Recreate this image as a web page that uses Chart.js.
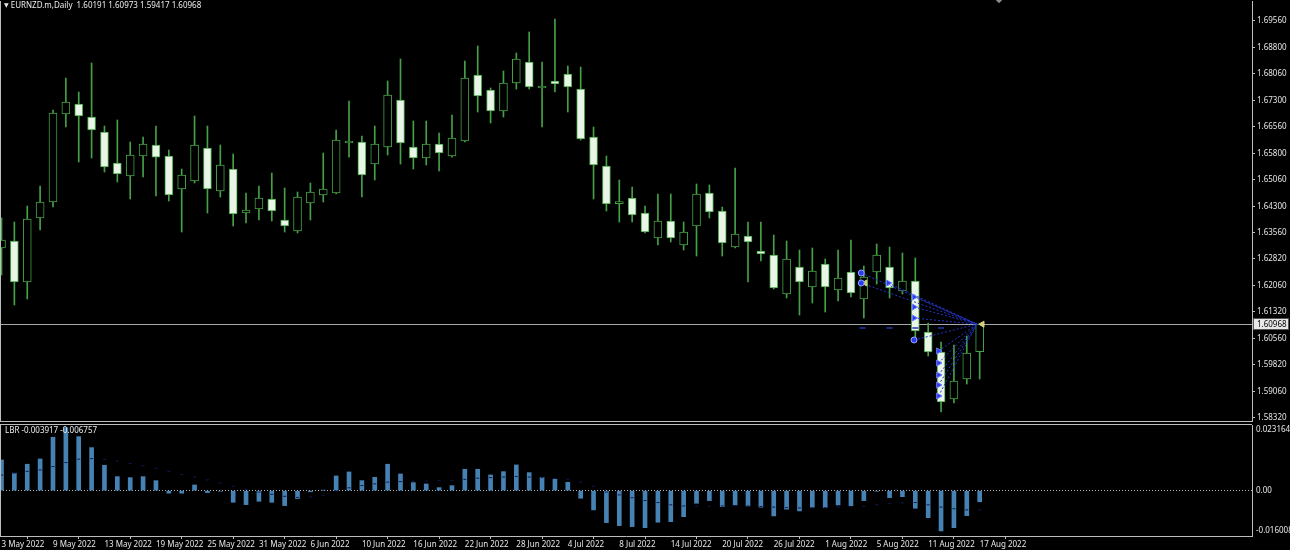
<!DOCTYPE html>
<html>
<head>
<meta charset="utf-8">
<title>EURNZD.m Daily</title>
<script src="https://cdn.jsdelivr.net/npm/chart.js@4.4.1/dist/chart.umd.min.js"></script>
<style>
  html, body { margin: 0; padding: 0; background: #000; }
  #wrap { position: relative; width: 1290px; height: 550px; overflow: hidden; background: #000; font-family: "Noto Sans", "DejaVu Sans", sans-serif; }
  #mainBox { position: absolute; left: 0; top: 0; width: 1290px; height: 422px; }
  #subBox { position: absolute; left: 0; top: 420px; width: 1290px; height: 130px; }
  .lbl { position: absolute; color: #ececec; font-size: 8px; line-height: 10px; white-space: pre; }
  .tri { font-size: 6px; vertical-align: 1px; }
  .shift { position: absolute; left: 996px; top: -4px; width: 6px; height: 6px; background: #8c8c8c; transform: rotate(45deg); }
</style>
</head>
<body>
<div id="wrap">
  <div id="mainBox"><canvas id="mainChart" width="1290" height="422"></canvas></div>
  <div id="subBox"><canvas id="subChart" width="1290" height="130"></canvas></div>
  <div class="lbl" style="left:4px;top:0px"><span class="tri">▼</span> EURNZD.m,Daily  1.60191 1.60973 1.59417 1.60968</div>
  <div class="lbl" style="left:5px;top:425px">LBR -0.003917 -0.006757</div>
  <div class="shift"></div>
</div>
<script>
// trading days shown on the chart
const dates = [
  '3 May 2022', '4 May 2022', '5 May 2022', '6 May 2022', '9 May 2022', '10 May 2022', '11 May 2022',
  '12 May 2022', '13 May 2022', '16 May 2022', '17 May 2022', '18 May 2022', '19 May 2022', '20 May 2022',
  '23 May 2022', '24 May 2022', '25 May 2022', '26 May 2022', '27 May 2022', '30 May 2022', '31 May 2022',
  '1 Jun 2022', '2 Jun 2022', '3 Jun 2022', '6 Jun 2022', '7 Jun 2022', '8 Jun 2022', '9 Jun 2022',
  '10 Jun 2022', '13 Jun 2022', '14 Jun 2022', '15 Jun 2022', '16 Jun 2022', '17 Jun 2022', '20 Jun 2022',
  '21 Jun 2022', '22 Jun 2022', '23 Jun 2022', '24 Jun 2022', '27 Jun 2022', '28 Jun 2022', '29 Jun 2022',
  '30 Jun 2022', '1 Jul 2022', '4 Jul 2022', '5 Jul 2022', '6 Jul 2022', '7 Jul 2022', '8 Jul 2022',
  '11 Jul 2022', '12 Jul 2022', '13 Jul 2022', '14 Jul 2022', '15 Jul 2022', '18 Jul 2022', '19 Jul 2022',
  '20 Jul 2022', '21 Jul 2022', '22 Jul 2022', '25 Jul 2022', '26 Jul 2022', '27 Jul 2022', '28 Jul 2022',
  '29 Jul 2022', '1 Aug 2022', '2 Aug 2022', '3 Aug 2022', '4 Aug 2022', '5 Aug 2022', '8 Aug 2022',
  '9 Aug 2022', '10 Aug 2022', '11 Aug 2022', '12 Aug 2022', '15 Aug 2022', '16 Aug 2022', '17 Aug 2022'
];

const open = [
  1.63125, 1.63323, 1.62162, 1.63974, 1.64427, 1.66918, 1.67202, 1.66833, 1.66409, 1.65531,
  1.65163, 1.65729, 1.66041, 1.65729, 1.64795, 1.65021, 1.65956, 1.64738, 1.65361, 1.64115,
  1.64229, 1.64512, 1.63917, 1.63606, 1.64399, 1.64625, 1.64682, 1.66097, 1.66126, 1.65502,
  1.65984, 1.67315, 1.65984, 1.65672, 1.66069, 1.65729, 1.66154, 1.68023, 1.67598, 1.67003,
  1.67796, 1.68391, 1.67655, 1.67853, 1.68051, 1.67626, 1.66267, 1.65446, 1.64380, 1.64540,
  1.64115, 1.63408, 1.63889, 1.63210, 1.63747, 1.64682, 1.64172, 1.63153, 1.63464, 1.63040,
  1.62926, 1.61822, 1.62587, 1.62020, 1.62672, 1.61935, 1.62445, 1.61681, 1.62445, 1.62587,
  1.61907, 1.62190, 1.60746, 1.60180, 1.58850, 1.59416, 1.60191
];
const high = [
  1.63974, 1.63861, 1.64313, 1.64880, 1.67032, 1.67938, 1.67541, 1.68362, 1.66579, 1.66749,
  1.66126, 1.66267, 1.66579, 1.65898, 1.65361, 1.66862, 1.66579, 1.66041, 1.65785, 1.64682,
  1.64880, 1.65248, 1.64823, 1.64710, 1.64965, 1.65814, 1.66465, 1.67286, 1.66296, 1.66579,
  1.67853, 1.68476, 1.66720, 1.66720, 1.66380, 1.66890, 1.68419, 1.68844, 1.67655, 1.68136,
  1.68645, 1.69240, 1.68391, 1.69608, 1.68277, 1.68249, 1.66550, 1.65729, 1.65050, 1.64852,
  1.64313, 1.64653, 1.64653, 1.63861, 1.64937, 1.64908, 1.64285, 1.65390, 1.63861, 1.63861,
  1.63493, 1.63323, 1.63068, 1.63125, 1.62813, 1.63068, 1.63351, 1.62615, 1.63238, 1.63153,
  1.62983, 1.62841, 1.61001, 1.60463, 1.60378, 1.60633, 1.60973
];
const low = [
  1.62360, 1.61511, 1.61681, 1.63634, 1.64285, 1.66550, 1.65559, 1.65672, 1.65276, 1.64993,
  1.64512, 1.65135, 1.64597, 1.64455, 1.63578, 1.64965, 1.64115, 1.64568, 1.63747, 1.63832,
  1.63917, 1.63889, 1.63578, 1.63549, 1.63917, 1.64427, 1.64653, 1.65700, 1.64568, 1.65050,
  1.65757, 1.65502, 1.65361, 1.65474, 1.65304, 1.65700, 1.66126, 1.66975, 1.66663, 1.66833,
  1.67626, 1.67626, 1.66550, 1.67541, 1.66975, 1.66182, 1.64512, 1.64172, 1.63861, 1.63861,
  1.63550, 1.63210, 1.63294, 1.63068, 1.62898, 1.63974, 1.62898, 1.63125, 1.62162, 1.62757,
  1.61964, 1.61709, 1.61228, 1.61567, 1.61313, 1.61624, 1.61737, 1.61143, 1.62105, 1.61709,
  1.61822, 1.60520, 1.60067, 1.58482, 1.58737, 1.59274, 1.59417
];
const close = [
  1.63351, 1.62162, 1.63946, 1.64427, 1.66947, 1.67258, 1.66862, 1.66465, 1.65418, 1.65220,
  1.65757, 1.66069, 1.65700, 1.64625, 1.65191, 1.66041, 1.64795, 1.65474, 1.64087, 1.64200,
  1.64540, 1.64172, 1.63747, 1.64568, 1.64710, 1.64795, 1.66182, 1.66154, 1.65191, 1.66069,
  1.67456, 1.66097, 1.65672, 1.66069, 1.65814, 1.66239, 1.67938, 1.67428, 1.67003, 1.67796,
  1.68476, 1.67683, 1.67711, 1.67768, 1.67683, 1.66211, 1.65474, 1.64370, 1.64399, 1.64059,
  1.63578, 1.63889, 1.63408, 1.63578, 1.64653, 1.64144, 1.63266, 1.63521, 1.63294, 1.62955,
  1.61992, 1.62813, 1.62162, 1.62473, 1.62020, 1.62275, 1.61850, 1.62304, 1.62926, 1.61992,
  1.62190, 1.60775, 1.60180, 1.58765, 1.59359, 1.60152, 1.60968
];

// LBR oscillator (histogram) and its signal
const lbr = [
  0.01083, 0.00614, 0.00932, 0.01119, 0.01884, 0.02220, 0.01906, 0.01518, 0.00896, 0.00494,
  0.00459, 0.00494, 0.00353, -0.00090, -0.00090, 0.00200, -0.00070, -0.00020, -0.00410, -0.00494,
  -0.00375, -0.00410, -0.00529, -0.00282, -0.00040, 0.00020, 0.00518, 0.00660, 0.00353, 0.00471,
  0.00932, 0.00588, 0.00282, 0.00235, 0.00106, 0.00176, 0.00755, 0.00755, 0.00554, 0.00671,
  0.00907, 0.00635, 0.00471, 0.00402, 0.00296, -0.00268, -0.00681, -0.01129, -0.01235, -0.01270,
  -0.01306, -0.01115, -0.01094, -0.00918, -0.00445, -0.00353, -0.00565, -0.00505, -0.00540, -0.00586,
  -0.00893, -0.00656, -0.00716, -0.00586, -0.00600, -0.00505, -0.00529, -0.00353, -0.00020, -0.00247,
  -0.00212, -0.00621, -0.00953, -0.01422, -0.01306, -0.00882, -0.003917
];
const lbrSignal = [
  0.0055, 0.0062, 0.0068, 0.0073, 0.0085, 0.0099, 0.0111, 0.0113, 0.0110, 0.0104,
  0.0096, 0.0088, 0.0079, 0.0068, 0.0057, 0.0048, 0.0038, 0.0027, 0.0015, 0.0005,
  -0.0005, -0.0013, -0.0020, -0.0024, -0.0022, -0.0016, -0.0001, 0.0010, 0.0018, 0.0024,
  0.0030, 0.0032, 0.0033, 0.0034, 0.0035, 0.0036, 0.0040, 0.0044, 0.0046, 0.0048,
  0.0050, 0.0048, 0.0046, 0.0043, 0.0040, 0.0030, 0.0015, -0.0005, -0.0015, -0.0025,
  -0.0035, -0.0042, -0.0050, -0.0054, -0.0055, -0.0055, -0.0054, -0.0053, -0.0054, -0.0056,
  -0.0058, -0.0060, -0.0061, -0.0061, -0.0060, -0.0058, -0.0057, -0.0055, -0.0050, -0.0046,
  -0.0043, -0.0042, -0.0050, -0.0058, -0.0064, -0.0068, -0.006757
];

// axis tick labels
const priceTicks = [1.69560, 1.68800, 1.68060, 1.67300, 1.66560, 1.65800, 1.65060, 1.64300,
  1.63560, 1.62820, 1.62060, 1.61320, 1.60560, 1.59820, 1.59060, 1.58320];
const subTickLabels = ['0.023164', '0.00', '-0.016008'];
const dateTickEvery = 4;

// trade arrows (bar position, price) and where they were closed
const entryX = [66.8, 66.8, 68.9, 70.9, 70.9, 70.9, 70.9, 72.8, 72.8, 72.8, 72.8, 72.8];
const entryPrice = [1.62417, 1.62134, 1.62134, 1.61737, 1.61454, 1.61143, 1.60520, 1.60208, 1.59869, 1.59529, 1.59246, 1.58935];
const entryKind = ['circle', 'circle', 'arrow', 'arrow', 'arrow', 'arrow', 'circle', 'arrow', 'arrow', 'arrow', 'arrow', 'arrow'];
const exitX = [67.1, 76.2];
const exitPrice = [1.62134, 1.60968];
const stopX = [66.9, 69.0, 71.0, 73.0];
const stopPrice = [1.60860, 1.60860, 1.60860, 1.60860];

// visible ranges
const X_MIN = -0.117, X_MAX = 97.16;
const P_MIN = 1.58227, P_MAX = 1.70118;
const SUB_MIN = -0.016008, SUB_MAX = 0.023164;

const GREEN = '#46a046';
const BEAR_FILL = '#e9f5e6';
const AXIS = '#bdbdbd';
const TXT = '#e6e6e6';
const FONT = { family: '"Noto Sans", "DejaVu Sans", sans-serif', size: 8 };
const TRADE_BLUE = '#2434c8';

const idx = dates.map((d, i) => i);
const lastClose = close[close.length - 1];

const framePlugin = {
  id: 'frame',
  afterDraw(chart, args, opts) {
    const { ctx, chartArea: a } = chart;
    ctx.save();
    ctx.strokeStyle = AXIS;
    ctx.lineWidth = 1;
    ctx.beginPath();
    ctx.moveTo(a.left + 0.5, a.top);
    ctx.lineTo(a.left + 0.5, a.bottom);
    if (opts.top) {
      ctx.moveTo(a.left, a.top - 0.5);
      ctx.lineTo(a.right, a.top - 0.5);
    }
    if (opts.bottom) {
      ctx.moveTo(a.left, a.bottom + 0.5);
      ctx.lineTo(a.right, a.bottom + 0.5);
    }
    ctx.stroke();
    ctx.restore();
  }
};

// current price line and the price box on the axis
const priceLinePlugin = {
  id: 'priceLine',
  beforeDatasetsDraw(chart) {
    const { ctx, chartArea: a } = chart;
    const y = Math.round(chart.scales.y.getPixelForValue(lastClose)) + 0.5;
    ctx.save();
    ctx.strokeStyle = '#a8a8a8';
    ctx.lineWidth = 1;
    ctx.beginPath();
    ctx.moveTo(a.left, y);
    ctx.lineTo(a.right, y);
    ctx.stroke();
    ctx.restore();
  },
  afterDraw(chart) {
    const { ctx, chartArea: a } = chart;
    const y = Math.round(chart.scales.y.getPixelForValue(lastClose));
    ctx.save();
    ctx.fillStyle = '#e8e8e8';
    ctx.fillRect(a.right + 1, y - 6, 36, 12);
    ctx.strokeStyle = '#555';
    ctx.strokeRect(a.right + 1.5, y - 5.5, 35, 11);
    ctx.fillStyle = '#000';
    ctx.font = '8px "Noto Sans", "DejaVu Sans", sans-serif';
    ctx.textBaseline = 'middle';
    ctx.fillText(lastClose.toFixed(5), a.right + 5, y + 0.5);
    ctx.restore();
  }
};

const tradeLines = entryX.map((x, k) => ({
  type: 'line',
  data: [{ x: x, y: entryPrice[k] }, { x: 75.8, y: exitPrice[1] }],
  borderColor: TRADE_BLUE,
  borderWidth: 1,
  borderDash: [2, 2],
  pointRadius: 0,
  order: 3
}));

const pick = kind => entryX.map((x, k) => ({ x: x, y: entryPrice[k], kind: entryKind[k] }))
  .filter(p => p.kind === kind);

new Chart(document.getElementById('mainChart'), {
  type: 'bar',
  data: {
    datasets: [
      {
        label: 'wicks',
        data: idx.map(i => ({ x: i, y: [low[i], high[i]] })),
        backgroundColor: GREEN,
        barThickness: 1,
        grouped: false,
        order: 6
      },
      {
        label: 'bodies',
        data: idx.map(i => ({ x: i, y: [open[i], close[i]] })),
        backgroundColor: c => close[c.dataIndex] >= open[c.dataIndex] ? '#000000' : BEAR_FILL,
        borderColor: GREEN,
        borderWidth: 1,
        borderSkipped: false,
        barThickness: 8,
        minBarLength: 2,
        grouped: false,
        order: 5
      },
      ...tradeLines,
      {
        type: 'scatter',
        data: pick('circle'),
        showLine: false,
        pointStyle: 'circle',
        pointRadius: 3,
        backgroundColor: '#2a3cf0',
        borderColor: '#9aa8ff',
        borderWidth: 1,
        order: 1
      },
      {
        type: 'scatter',
        data: pick('arrow'),
        showLine: false,
        pointStyle: 'triangle',
        rotation: 90,
        pointRadius: 3.5,
        backgroundColor: '#2a3cf0',
        borderColor: '#6f80ff',
        borderWidth: 1,
        order: 1
      },
      {
        type: 'scatter',
        data: exitX.map((x, k) => ({ x: x, y: exitPrice[k] })),
        showLine: false,
        pointStyle: 'triangle',
        rotation: -90,
        pointRadius: 3.5,
        backgroundColor: '#d2d27a',
        borderColor: '#d2d27a',
        borderWidth: 1,
        order: 1
      },
      {
        type: 'scatter',
        data: stopX.map((x, k) => ({ x: x, y: stopPrice[k] })),
        showLine: false,
        pointStyle: 'line',
        pointRadius: 3,
        borderColor: '#2536b0',
        borderWidth: 1.5,
        order: 2
      }
    ]
  },
  options: {
    responsive: false,
    animation: false,
    events: [],
    layout: { autoPadding: false, padding: { top: 1, bottom: 1, left: 0, right: 0 } },
    plugins: { legend: { display: false }, tooltip: { enabled: false }, frame: { bottom: true } },
    scales: {
      x: { type: 'linear', display: false, min: X_MIN, max: X_MAX, offset: false },
      y: {
        position: 'right',
        min: P_MIN,
        max: P_MAX,
        afterBuildTicks: s => { s.ticks = priceTicks.map(v => ({ value: v })); },
        afterFit: s => { s.width = 38; s.paddingTop = 0; s.paddingBottom = 0; },
        ticks: { color: TXT, font: FONT, padding: 2, callback: v => v.toFixed(5) },
        grid: { drawOnChartArea: false, tickLength: 3, color: AXIS },
        border: { display: true, color: AXIS }
      }
    }
  },
  plugins: [framePlugin, priceLinePlugin]
});

new Chart(document.getElementById('subChart'), {
  type: 'bar',
  data: {
    datasets: [
      {
        label: 'LBR',
        data: idx.map(i => ({ x: i, y: lbr[i] })),
        backgroundColor: '#4682b4',
        barThickness: 4,
        grouped: false,
        order: 2
      },
      {
        type: 'scatter',
        label: 'Signal',
        data: idx.map(i => ({ x: i, y: lbrSignal[i] })),
        showLine: false,
        pointStyle: 'line',
        pointRadius: 1.5,
        borderColor: '#0e1a52',
        borderWidth: 1,
        order: 1
      }
    ]
  },
  options: {
    responsive: false,
    animation: false,
    events: [],
    layout: { autoPadding: false, padding: { top: 5, bottom: 0, left: 0, right: 0 } },
    plugins: { legend: { display: false }, tooltip: { enabled: false }, frame: { top: true } },
    scales: {
      x: {
        type: 'linear',
        min: X_MIN,
        max: X_MAX,
        offset: false,
        afterBuildTicks: s => { s.ticks = idx.filter(i => i % dateTickEvery === 0).map(i => ({ value: i })); },
        afterFit: s => { s.height = 14; s.paddingLeft = 0; s.paddingRight = 0; },
        ticks: { autoSkip: false, maxRotation: 0, align: 'start', padding: 1, color: TXT, font: FONT, callback: v => dates[v] },
        grid: { drawOnChartArea: false, tickLength: 3, color: AXIS },
        border: { display: true, color: AXIS }
      },
      y: {
        position: 'right',
        min: SUB_MIN,
        max: SUB_MAX,
        afterBuildTicks: s => {
          const inset = (SUB_MAX - SUB_MIN) * 0.045;
          s.ticks = [{ value: SUB_MAX - inset }, { value: 0 }, { value: SUB_MIN + inset }];
        },
        afterFit: s => { s.width = 38; s.paddingTop = 0; s.paddingBottom = 0; },
        ticks: { color: TXT, font: FONT, padding: 4, callback: (v, i) => subTickLabels[i] },
        grid: { drawTicks: false, color: c => (c.tick && c.tick.value === 0) ? '#b4b4b4' : 'rgba(0,0,0,0)' },
        border: { display: true, color: AXIS, dash: [1, 2] }
      }
    }
  },
  plugins: [framePlugin]
});
</script>
</body>
</html>
